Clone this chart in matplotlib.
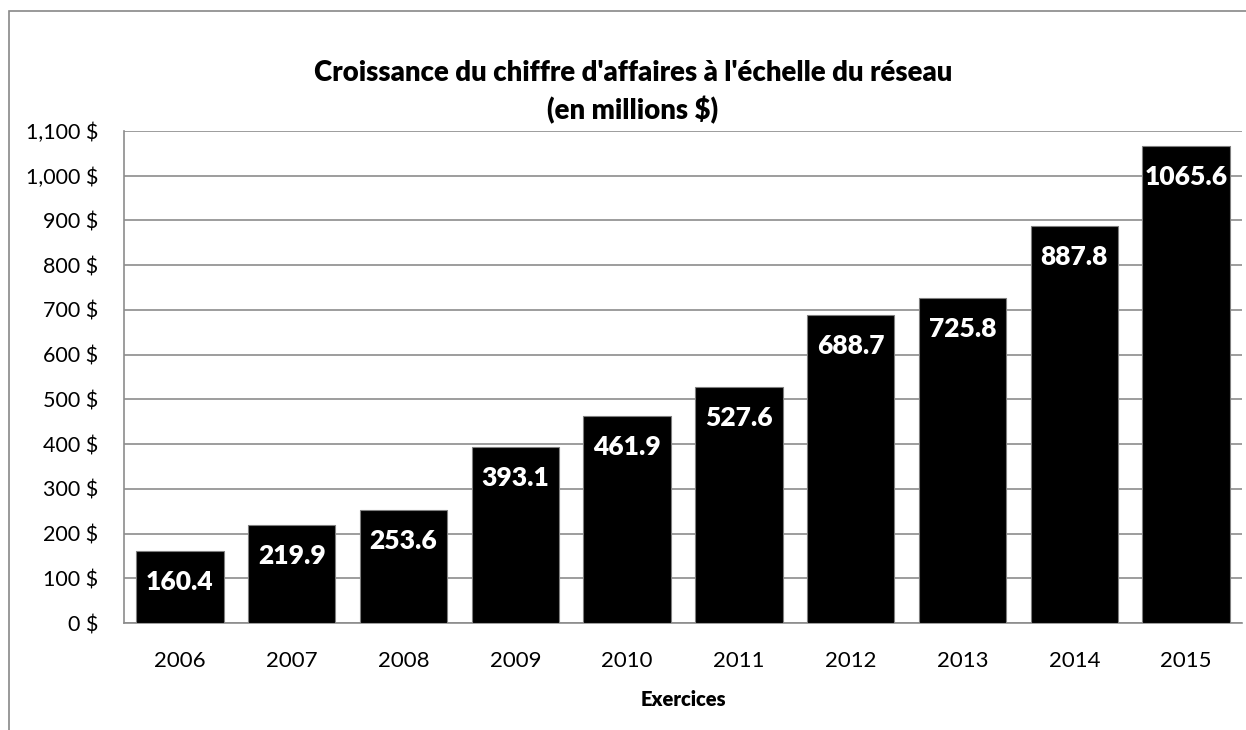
import matplotlib.pyplot as plt
from matplotlib.patches import Rectangle
from matplotlib.ticker import FuncFormatter

# données
annees = ['2006', '2007', '2008', '2009', '2010', '2011', '2012', '2013', '2014', '2015']
chiffre = [160.4, 219.9, 253.6, 393.1, 461.9, 527.6, 688.7, 725.8, 887.8, 1065.6]
titre = "Croissance du chiffre d'affaires à l'échelle du réseau\n(en millions $)"
axe_x = 'Exercices'

plt.rcParams['font.family'] = ['Lato', 'DejaVu Sans']

W, H = 1246, 730
fig = plt.figure(figsize=(W / 100, H / 100), dpi=100)

# cadre de la zone de graphique
fig.patches.append(Rectangle((9 / W, -0.1), 2.0, 1 - 11 / H + 0.1, transform=fig.transFigure,
                             fill=False, edgecolor='#888888', linewidth=1.2))

ax = fig.add_axes([124 / W, 1 - 623 / H, (1242 - 124) / W, (623 - 131) / H])

x = range(len(annees))
bars = ax.bar(x, chiffre, width=0.78, color='black', edgecolor='#7f7f7f', linewidth=0.8, zorder=3)

# étiquettes de valeurs à l'intérieur des barres
for b, v in zip(bars, chiffre):
    ax.annotate(f'{v:.1f}', (b.get_x() + b.get_width() / 2, v), xytext=(0, -31),
                textcoords='offset pixels', ha='center', va='center',
                color='white', fontsize=19, fontweight='heavy', zorder=4)

ax.set_xlim(-0.5, len(annees) - 0.5)
ax.set_ylim(0, 1100)
ax.set_yticks(range(0, 1101, 100))
ax.yaxis.set_major_formatter(FuncFormatter(lambda v, p: f'{int(v):,} $'))
ax.set_xticks(list(x))
ax.set_xticklabels(annees)
ax.tick_params(axis='y', length=0, labelsize=15.5, pad=18.5)
ax.tick_params(axis='x', length=0, labelsize=16, pad=20)

ax.grid(axis='y', color='#8c8c8c', linewidth=1.2, zorder=0)
for s in ['top', 'right']:
    ax.spines[s].set_visible(False)
for s in ['left', 'bottom']:
    ax.spines[s].set_color('#8c8c8c')
    ax.spines[s].set_linewidth(1.2)

ax.set_xlabel(axe_x, fontsize=14.5, fontweight='heavy', labelpad=14)

fig.text(633 / W, 1 - 92 / H, titre, ha='center', va='center', fontsize=19.8,
         fontweight='heavy', linespacing=1.42)

fig.savefig('out.png', dpi=100)
